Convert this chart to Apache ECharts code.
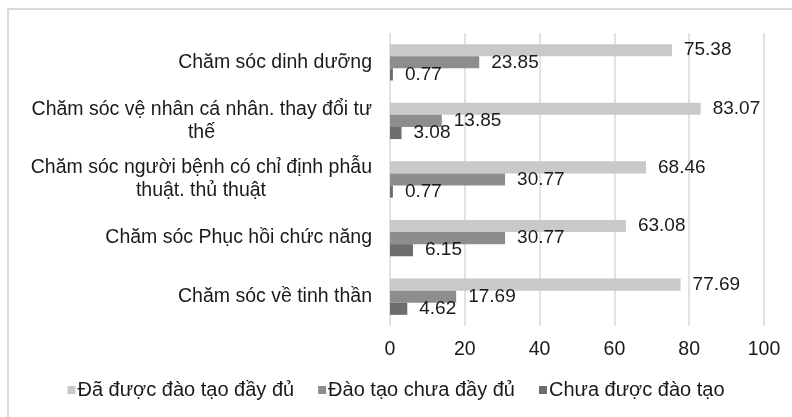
<!DOCTYPE html>
<html>
<head>
<meta charset="utf-8">
<script src="https://cdn.jsdelivr.net/npm/echarts@6/dist/echarts.min.js"></script>
<style>
  html, body { margin: 0; padding: 0; background: #fff; }
  #chart { width: 792px; height: 417px; }
</style>
</head>
<body>
<div id="chart"></div>
<script>
// Care areas, listed top to bottom
const categories = [
  'Chăm sóc dinh dưỡng',
  'Chăm sóc vệ nhân cá nhân. thay đổi tư\nthế',
  'Chăm sóc người bệnh có chỉ định phẫu\nthuật. thủ thuật',
  'Chăm sóc Phục hồi chức năng',
  'Chăm sóc về tinh thần'
];
const seriesNames = ['Đã được đào tạo đầy đủ', 'Đào tạo chưa đầy đủ', 'Chưa được đào tạo'];
const fullyTrained = [75.38, 83.07, 68.46, 63.08, 77.69];
const partlyTrained = [23.85, 13.85, 30.77, 30.77, 17.69];
const notTrained = [0.77, 3.08, 0.77, 6.15, 4.62];
const xTicks = [0, 20, 40, 60, 80, 100];

const colors = ['#c9c9c9', '#8d8d8d', '#6d6d6d'];
const FONT = 'Liberation Sans, Arial, sans-serif';
const TEXT = '#1a1a1a';
const CAT_SIZE = 19.5;

// Wrapped category labels: lines are right-aligned, so shorter lines get a
// right padding that centres them under the widest line of their label.
const ctx = document.createElement('canvas').getContext('2d');
ctx.font = CAT_SIZE + 'px ' + FONT;
const catRich = {};
categories.forEach((c, i) => {
  const lines = c.split('\n');
  const widths = lines.map(s => ctx.measureText(s).width);
  const maxW = Math.max(...widths);
  lines.forEach((s, j) => {
    catRich['c' + i + '_' + j] = {
      color: TEXT, fontFamily: FONT, fontSize: CAT_SIZE, lineHeight: 23,
      padding: [0, Math.round((maxW - widths[j]) / 2), 0, 0]
    };
  });
});

const chart = echarts.init(document.getElementById('chart'), null, { renderer: 'canvas' });

function barSeries(name, data, color) {
  return {
    name: name,
    type: 'bar',
    data: data,
    barGap: '0%',
    barCategoryGap: '38%',
    itemStyle: { color: color },
    label: {
      show: true,
      position: 'right',
      distance: 12,
      color: TEXT,
      fontFamily: FONT,
      fontSize: 19,
      formatter: p => p.value.toFixed(2)
    }
  };
}

chart.setOption({
  animation: false,
  backgroundColor: '#fff',
  color: colors,
  graphic: [{
    type: 'rect',
    shape: { x: 8, y: 9, width: 900, height: 500 },
    style: { fill: 'none', stroke: '#d9d9d9', lineWidth: 2 },
    silent: true
  }],
  grid: { left: 390, right: 28, top: 33, bottom: 91, containLabel: false },
  legend: {
    bottom: 12,
    left: 'center',
    itemWidth: 8,
    itemHeight: 8,
    itemGap: 24,
    icon: 'rect',
    textStyle: { color: TEXT, fontFamily: FONT, fontSize: 20, padding: [0, 0, 0, -3] },
    data: seriesNames
  },
  xAxis: {
    type: 'value',
    min: xTicks[0],
    max: xTicks[xTicks.length - 1],
    interval: xTicks[1] - xTicks[0],
    axisLine: { show: false },
    axisTick: { show: false },
    axisLabel: { color: TEXT, fontFamily: FONT, fontSize: 19.5, margin: 14 },
    splitLine: { lineStyle: { color: '#d9d9d9', width: 1.5 } }
  },
  yAxis: {
    type: 'category',
    inverse: true,
    data: categories,
    axisLine: { show: false },
    axisTick: { show: false },
    axisLabel: {
      margin: 18,
      formatter: (v, i) => v.split('\n').map((s, j) => '{c' + i + '_' + j + '|' + s + '}').join('\n'),
      rich: catRich
    }
  },
  series: [
    barSeries(seriesNames[0], fullyTrained, colors[0]),
    barSeries(seriesNames[1], partlyTrained, colors[1]),
    barSeries(seriesNames[2], notTrained, colors[2])
  ]
});
</script>
</body>
</html>
